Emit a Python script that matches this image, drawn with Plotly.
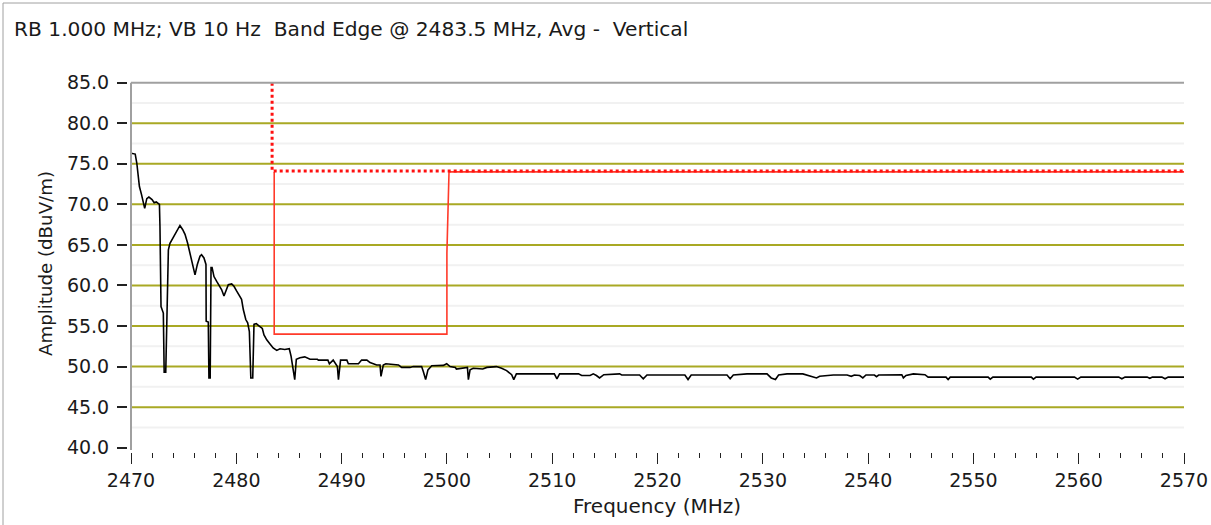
import plotly.graph_objects as go

# Measured spectrum trace (average detector, vertical polarisation)
freq_mhz = [
    2470.0, 2470.4, 2470.55, 2470.8, 2471.0, 2471.3, 2471.5, 2471.7, 2472.0, 2472.2,
    2472.4, 2472.7, 2472.75, 2472.85, 2473.07, 2473.15, 2473.3, 2473.45, 2473.55, 2473.7,
    2473.86, 2474.08, 2474.34, 2474.65, 2474.9, 2475.13, 2475.38, 2475.6, 2475.86, 2476.08,
    2476.3, 2476.55, 2476.7, 2476.93, 2477.12, 2477.14, 2477.34, 2477.4, 2477.52, 2477.6,
    2477.7, 2477.88, 2478.14, 2478.4, 2478.6, 2478.83, 2479.1, 2479.24, 2479.56, 2479.78,
    2480.04, 2480.28, 2480.5, 2480.67, 2480.9, 2481.08, 2481.24, 2481.38, 2481.56, 2481.68,
    2481.9, 2482.18, 2482.47, 2482.63, 2482.89, 2483.2, 2483.5, 2483.84, 2484.15, 2484.6,
    2485.03, 2485.2, 2485.4, 2485.55, 2485.7, 2486.05, 2486.5, 2487.0, 2487.7, 2487.8,
    2488.7, 2488.84, 2489.2, 2489.6, 2489.7, 2489.9, 2490.5, 2490.64, 2491.6, 2491.9,
    2492.4, 2492.7, 2493.33, 2493.65, 2493.74, 2493.96, 2494.2, 2495.4, 2495.7, 2496.5,
    2496.8, 2497.6, 2497.76, 2497.98, 2498.2, 2498.56, 2499.66, 2499.98, 2500.3, 2500.8,
    2500.9, 2501.7, 2501.95, 2502.04, 2502.2, 2502.5, 2503.1, 2503.4, 2503.8, 2504.7,
    2505.2, 2505.67, 2506.15, 2506.35, 2506.6, 2510.2, 2510.45, 2510.7, 2512.5, 2512.8,
    2513.6, 2513.9, 2514.2, 2514.5, 2514.9, 2515.8, 2516.4, 2516.6, 2518.3, 2518.65,
    2519.0, 2522.6, 2522.9, 2523.2, 2526.6, 2526.9, 2527.2, 2528.5, 2530.4, 2530.8,
    2531.2, 2531.5, 2532.3, 2533.8, 2535.1, 2535.4, 2536.7, 2538.0, 2538.4, 2538.7,
    2539.2, 2539.5, 2539.8, 2540.6, 2540.8, 2541.0, 2543.2, 2543.35, 2543.6, 2544.3,
    2545.4, 2545.7, 2547.4, 2547.6, 2547.8, 2551.4, 2551.6, 2551.85, 2555.5, 2555.7,
    2555.95, 2559.6, 2559.9, 2560.2, 2563.8, 2564.1, 2564.4, 2566.5, 2566.75, 2567.0,
    2567.9, 2568.2, 2568.5, 2570.0,
]
amplitude_dbuv = [
    76.3, 76.2, 75.1, 72.2, 71.2, 69.5, 70.7, 70.9, 70.6, 70.2,
    70.3, 70.0, 67.3, 57.4, 56.6, 49.3, 49.3, 56.6, 64.4, 65.2,
    65.6, 66.0, 66.7, 67.4, 66.9, 66.3, 65.2, 64.0, 62.8, 61.3,
    62.6, 63.6, 63.8, 63.4, 62.6, 55.6, 55.5, 48.6, 48.6, 62.2,
    62.2, 61.1, 60.5, 59.9, 59.5, 58.7, 59.5, 60.1, 60.2, 59.9,
    59.3, 58.7, 58.3, 57.0, 55.8, 55.4, 54.3, 48.6, 48.6, 55.2,
    55.3, 55.0, 54.7, 53.9, 53.3, 52.8, 52.3, 52.0, 52.2, 52.1,
    52.2, 51.3, 49.6, 48.4, 50.9, 51.1, 51.2, 50.9, 50.9, 50.8,
    50.8, 50.35, 50.8, 50.0, 48.4, 50.8, 50.8, 50.35, 50.35, 50.8,
    50.8, 50.5, 50.2, 50.2, 48.8, 50.2, 50.35, 50.2, 49.9, 49.9,
    50.0, 50.0, 49.4, 48.4, 49.6, 50.1, 50.15, 50.35, 50.0, 49.9,
    49.7, 49.9, 49.9, 48.4, 49.6, 49.8, 49.7, 49.7, 49.9, 50.0,
    49.8, 49.5, 49.0, 48.4, 49.1, 49.1, 48.5, 49.1, 49.1, 48.9,
    48.9, 49.1, 48.9, 48.6, 49.0, 49.1, 49.1, 48.96, 48.96, 48.5,
    48.96, 48.96, 48.4, 48.96, 48.96, 48.5, 48.96, 49.1, 49.1, 48.6,
    48.4, 48.96, 49.1, 49.1, 48.6, 48.8, 48.96, 48.96, 48.8, 48.96,
    48.9, 48.6, 48.96, 48.96, 48.75, 48.96, 49.0, 48.6, 48.9, 49.1,
    49.0, 48.7, 48.7, 48.4, 48.7, 48.7, 48.45, 48.7, 48.7, 48.45,
    48.7, 48.7, 48.45, 48.7, 48.7, 48.5, 48.7, 48.7, 48.55, 48.7,
    48.7, 48.5, 48.7, 48.7,
]

# Peak limit (dotted) and average limit (solid) around the 2483.5 MHz band edge
peak_limit_freq = [2483.4, 2483.4, 2570.0]
peak_limit_level = [85.0, 74.1, 74.1]
avg_limit_freq = [2483.6, 2483.6, 2500.0, 2500.0, 2500.2, 2570.0]
avg_limit_level = [74.0, 54.0, 54.0, 64.0, 74.0, 74.0]

# Axis scales
x_range = [2470, 2570]
y_range = [40, 85]
y_tick_vals = [40, 45, 50, 55, 60, 65, 70, 75, 80, 85]
x_tick_vals = [2470, 2480, 2490, 2500, 2510, 2520, 2530, 2540, 2550, 2560, 2570]
grid_major = [45, 50, 55, 60, 65, 70, 75, 80]
grid_minor = [42.5, 47.5, 52.5, 57.5, 62.5, 67.5, 72.5, 77.5, 82.5]

title_text = "RB 1.000 MHz; VB 10 Hz\u00a0 Band Edge @ 2483.5 MHz, Avg -\u00a0 Vertical"

W, H = 1211, 525
FONT = "DejaVu Sans"
TXT = "#1a1a1a"
px_x = lambda p: p / W
px_y = lambda p: 1 - p / H

x_dom = [px_x(131), px_x(1184)]
y_dom = [px_y(447.7), px_y(82.7)]

fig = go.Figure()

fig.add_trace(go.Scatter(
    x=freq_mhz, y=amplitude_dbuv, mode="lines",
    line=dict(color="#000000", width=1.6), showlegend=False, hoverinfo="skip",
))
fig.add_trace(go.Scatter(
    x=avg_limit_freq, y=avg_limit_level, mode="lines",
    line=dict(color="#ff3a2a", width=1.6), showlegend=False, hoverinfo="skip",
))
fig.add_trace(go.Scatter(
    x=peak_limit_freq, y=peak_limit_level, mode="lines",
    line=dict(color="#ff1010", width=3, dash="dot"), showlegend=False, hoverinfo="skip",
))

shapes = []
for v in grid_minor:
    shapes.append(dict(type="line", xref="x domain", yref="y", x0=0, x1=1, y0=v, y1=v,
                       line=dict(color="#f1f1f1", width=2), layer="below"))
for v in grid_major:
    shapes.append(dict(type="line", xref="x domain", yref="y", x0=0, x1=1, y0=v, y1=v,
                       line=dict(color="#a9a924", width=2), layer="below"))
# plot frame: top and left edges
shapes.append(dict(type="line", xref="x domain", yref="y domain", x0=0, x1=1, y0=1, y1=1,
                   line=dict(color="#a0a0a0", width=2), layer="above"))
shapes.append(dict(type="line", xref="x domain", yref="y domain", x0=0, x1=0, y0=-0.006, y1=1,
                   line=dict(color="#a0a0a0", width=2), layer="above"))
# outer window border
shapes.append(dict(type="line", xref="paper", yref="paper", x0=px_x(3), x1=1, y0=px_y(3), y1=px_y(3),
                   line=dict(color="#a0a0a0", width=1)))
shapes.append(dict(type="line", xref="paper", yref="paper", x0=px_x(3), x1=px_x(3), y0=0, y1=px_y(3),
                   line=dict(color="#a0a0a0", width=1)))

annotations = [
    dict(text=title_text, xref="paper", yref="paper", x=px_x(12), y=px_y(29),
         xanchor="left", yanchor="middle", showarrow=False,
         font=dict(family=FONT, size=20.2, color=TXT)),
    dict(text="Amplitude (dBuV/m)", xref="paper", yref="paper", x=px_x(45), y=px_y(264),
         xanchor="center", yanchor="middle", textangle=-90, showarrow=False,
         font=dict(family=FONT, size=18.2, color=TXT)),
    dict(text="Frequency (MHz)", xref="paper", yref="paper", x=px_x(657), y=px_y(506),
         xanchor="center", yanchor="middle", showarrow=False,
         font=dict(family=FONT, size=20, color=TXT)),
]

fig.update_layout(
    width=W, height=H,
    margin=dict(l=0, r=0, t=0, b=0, autoexpand=False),
    paper_bgcolor="white", plot_bgcolor="white",
    font=dict(family=FONT, size=19, color=TXT),
    shapes=shapes, annotations=annotations,
    xaxis=dict(
        domain=x_dom, range=x_range, anchor="free", position=px_y(452), automargin=False,
        tickvals=x_tick_vals, ticks="outside", ticklen=11, tickwidth=1, tickcolor="#222",
        ticklabelstandoff=0,
        minor=dict(dtick=2, tick0=2470, ticks="outside", ticklen=5, tickwidth=1,
                   tickcolor="#222", showgrid=False),
        showgrid=False, zeroline=False, showline=False,
        tickfont=dict(family=FONT, size=19, color=TXT),
    ),
    yaxis=dict(
        domain=y_dom, range=y_range, anchor="free", position=px_x(127), automargin=False,
        tickvals=y_tick_vals, tickformat=".1f", ticks="outside", ticklen=10, tickwidth=2,
        tickcolor="#222", ticklabelstandoff=4,
        showgrid=False, zeroline=False, showline=False,
        tickfont=dict(family=FONT, size=19, color=TXT),
    ),
)

fig.write_html("out.html")
